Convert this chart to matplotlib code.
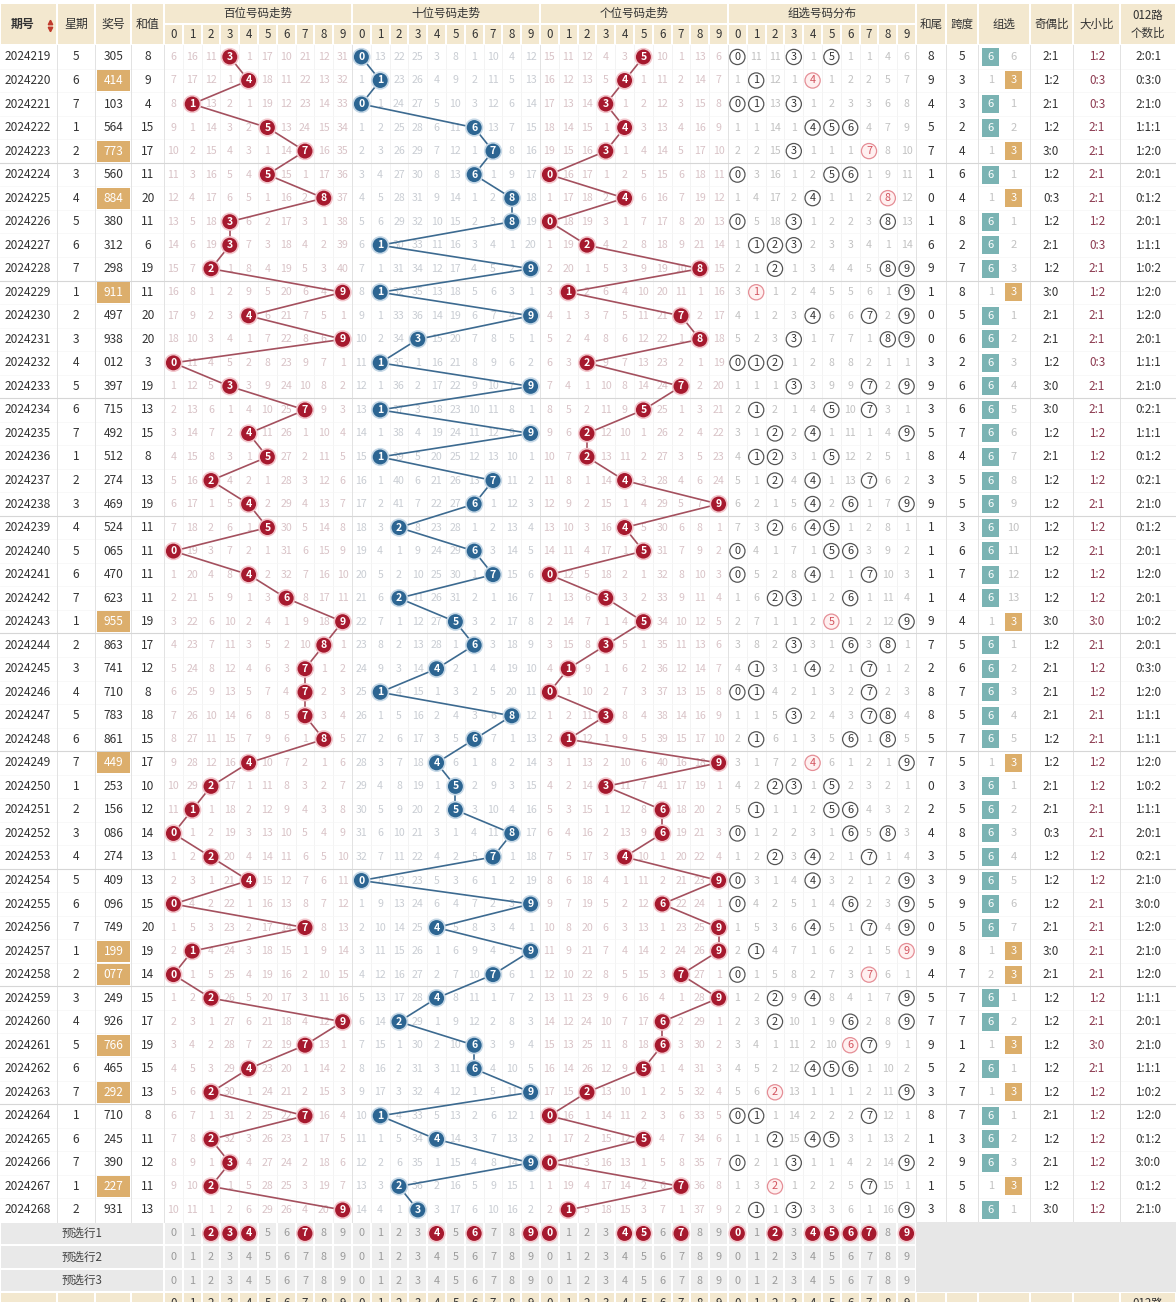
import matplotlib
matplotlib.use("Agg")
import matplotlib.pyplot as plt
from matplotlib.patches import Rectangle, Circle

plt.rcParams['font.family'] = ['Noto Sans CJK SC', 'DejaVu Sans']

# ---- data ----
issues = ["2024219", "2024220", "2024221", "2024222", "2024223", "2024224", "2024225",
          "2024226", "2024227", "2024228", "2024229", "2024230", "2024231", "2024232",
          "2024233", "2024234", "2024235", "2024236", "2024237", "2024238", "2024239",
          "2024240", "2024241", "2024242", "2024243", "2024244", "2024245", "2024246",
          "2024247", "2024248", "2024249", "2024250", "2024251", "2024252", "2024253",
          "2024254", "2024255", "2024256", "2024257", "2024258", "2024259", "2024260",
          "2024261", "2024262", "2024263", "2024264", "2024265", "2024266", "2024267",
          "2024268"]
weekdays = [5, 6, 7, 1, 2, 3, 4, 5, 6, 7, 1, 2, 3, 4, 5, 6, 7, 1, 2, 3, 4, 5, 6, 7, 1,
            2, 3, 4, 5, 6, 7, 1, 2, 3, 4, 5, 6, 7, 1, 2, 3, 4, 5, 6, 7, 1, 6, 7, 1, 2]
draws = ["305", "414", "103", "564", "773", "560", "884", "380", "312", "298",
         "911", "497", "938", "012", "397", "715", "492", "512", "274", "469",
         "524", "065", "470", "623", "955", "863", "741", "710", "783", "861",
         "449", "253", "156", "086", "274", "409", "096", "749", "199", "077",
         "249", "926", "766", "465", "292", "710", "245", "390", "227", "931"]

# omission counts shown on the first row (history before the window)
hund_miss0 = [6, 16, 11, 0, 1, 17, 10, 21, 12, 31]
tens_miss0 = [0, 13, 22, 25, 3, 8, 1, 10, 4, 12]
units_miss0 = [15, 11, 12, 4, 3, 0, 10, 1, 13, 6]
group_miss0 = [0, 11, 11, 0, 1, 0, 1, 1, 4, 6]
z6_miss0 = 0
z3_miss0 = 6

pre1_hund = [2, 3, 4, 7]
pre1_tens = [4, 6, 9]
pre1_units = [0, 4, 5, 7]
pre1_group = [0, 2, 4, 5, 6, 7, 9]
pre_labels = ["预选行1", "预选行2", "预选行3"]

# ---- layout ----
W, H = 1176, 1302
ROW_H = 23.53
Y0 = 45.2
CW = 18.8
sec_x0 = [164, 352, 540, 728]
left_edges = [0, 57, 95, 131, 164]
right_edges = [916, 946, 978, 1030, 1073, 1120, 1176]

BEIGE = "#f3e8cf"
TXT = "#333333"
RED = "#a6192e"
BLUE = "#2c6592"

fig = plt.figure(figsize=(11.76, 13.02), dpi=100)
ax = fig.add_axes([0, 0, 1, 1])
ax.set_xlim(0, W)
ax.set_ylim(H, 0)
ax.axis("off")


def rowy(i):
    return Y0 + (i + 0.5) * ROW_H


def colx(sec, d):
    return sec_x0[sec] + (d + 0.5) * CW


def cell(x0, y0, x1, y1, fc):
    ax.add_patch(Rectangle((x0 + 1, y0 + 1), x1 - x0 - 2, y1 - y0 - 2, fc=fc, ec="none", zorder=1))


def header(ytop, ymid, ybot, full=True):
    labels_left = ["期号", "星期", "奖号", "和值"]
    for k in range(4):
        cell(left_edges[k], ytop, left_edges[k + 1], ybot, BEIGE)
        if full:
            ax.text((left_edges[k] + left_edges[k + 1]) / 2 - (6 if k == 0 else 0), (ytop + ybot) / 2,
                    labels_left[k], ha="center", va="center", fontsize=8.6, color=TXT,
                    fontweight="bold" if k == 0 else "normal")
    titles = ["百位号码走势", "十位号码走势", "个位号码走势", "组选号码分布"]
    for s in range(4):
        if full:
            cell(sec_x0[s], ytop, sec_x0[s] + 10 * CW, ymid, BEIGE)
            ax.text(sec_x0[s] + 5 * CW, (ytop + ymid) / 2, titles[s], ha="center", va="center",
                    fontsize=8.3, color=TXT)
        for d in range(10):
            cell(sec_x0[s] + d * CW, ymid, sec_x0[s] + (d + 1) * CW, ybot, BEIGE)
            ax.text(colx(s, d), (ymid + ybot) / 2, str(d), ha="center", va="center",
                    fontsize=8.3, color=TXT)
    labels_right = ["和尾", "跨度", "组选", "奇偶比", "大小比", "012路\n个数比"]
    for k in range(6):
        cell(right_edges[k], ytop, right_edges[k + 1], ybot, BEIGE)
        if full:
            ax.text((right_edges[k] + right_edges[k + 1]) / 2, (ytop + ybot) / 2, labels_right[k],
                    ha="center", va="center", fontsize=8.3, color=TXT, linespacing=1.5)
        elif k == 5:
            ax.text((right_edges[k] + right_edges[k + 1]) / 2, ytop + 11, "012路",
                    ha="center", va="center", fontsize=8.3, color=TXT)


# top header
header(3, 24, Y0)
ax.plot([50], [21.5], marker="^", ms=3.2, color="#c0392b", zorder=3)
ax.plot([50], [28.5], marker="v", ms=3.2, color="#c0392b", zorder=3)

n = len(draws)
ybot = Y0 + n * ROW_H

# grid lines
for s in range(4):
    for d in range(1, 10):
        xx = sec_x0[s] + d * CW
        ax.plot([xx, xx], [Y0, ybot], color="#f1f1f1", lw=0.6, zorder=0.5)
for xx in left_edges[1:] + sec_x0[1:] + right_edges[:-1]:
    ax.plot([xx, xx], [Y0, ybot], color="#e2e2e2", lw=0.7, zorder=0.6)
for i in range(1, n):
    yy = Y0 + i * ROW_H
    if i % 5 == 0:
        ax.plot([0, W], [yy, yy], color="#d6d6d6", lw=0.8, zorder=0.6)
    else:
        ax.plot([0, W], [yy, yy], color="#f5f5f5", lw=0.5, zorder=0.5)

# omission tables
hund_miss = list(hund_miss0)
tens_miss = list(tens_miss0)
units_miss = list(units_miss0)
group_miss = list(group_miss0)
z6_miss, z3_miss = z6_miss0, z3_miss0
miss_cols = ["#d9c3c7", "#c9cdd3", "#d9c3c7"]
sec_cols = [RED, BLUE, RED]
line_cols = ["#a4505e", "#3c6a90", "#a4505e"]
edge_cols = ["#f2c6cc", "#c6d8e6", "#f2c6cc"]

for i, dr in enumerate(draws):
    y = rowy(i)
    digits = [int(c) for c in dr]
    total = sum(digits)
    is_z3 = len(set(digits)) < 3

    ax.text(28, y, issues[i], ha="center", va="center", fontsize=8.6, color=TXT)
    ax.text(76, y, str(weekdays[i]), ha="center", va="center", fontsize=8.6, color=TXT)
    if is_z3:
        ax.add_patch(Rectangle((97, y - 10.5), 33, 21, fc="#dcae6c", ec="none", zorder=1))
        ax.text(113.5, y, dr, ha="center", va="center", fontsize=8.6, color="white", zorder=2)
    else:
        ax.text(113.5, y, dr, ha="center", va="center", fontsize=8.6, color=TXT)
    ax.text(148, y, str(total), ha="center", va="center", fontsize=8.6, color=TXT)

    if i > 0:
        for s, mm in enumerate([hund_miss, tens_miss, units_miss]):
            for d in range(10):
                mm[d] = 0 if d == digits[s] else mm[d] + 1
        for d in range(10):
            group_miss[d] = 0 if d in digits else group_miss[d] + 1
        if is_z3:
            z3_miss, z6_miss = 0, z6_miss + 1
        else:
            z6_miss, z3_miss = 0, z3_miss + 1

    for s, mm in enumerate([hund_miss, tens_miss, units_miss]):
        for d in range(10):
            if d == digits[s]:
                ax.add_patch(Circle((colx(s, d), y), 8.3, fc=sec_cols[s], ec=edge_cols[s], lw=1.2, zorder=4))
                ax.text(colx(s, d), y, str(d), ha="center", va="center", fontsize=7.6,
                        color="white", fontweight="bold", zorder=5)
            else:
                ax.text(colx(s, d), y, str(mm[d]), ha="center", va="center", fontsize=7.6,
                        color=miss_cols[s], zorder=2)
        if i > 0:
            prev = int(draws[i - 1][s])
            ax.plot([colx(s, prev), colx(s, digits[s])], [rowy(i - 1), y],
                    color=line_cols[s], lw=1.2, zorder=3)

    for d in range(10):
        if d in digits:
            rep = digits.count(d) > 1
            ax.add_patch(Circle((colx(3, d), y), 7.6, fc="#fff0f0" if rep else "white",
                                ec="#e58e96" if rep else "#555555", lw=0.9, zorder=4))
            ax.text(colx(3, d), y, str(d), ha="center", va="center", fontsize=7.8,
                    color="#d2545f" if rep else TXT, zorder=5)
        else:
            ax.text(colx(3, d), y, str(group_miss[d]), ha="center", va="center", fontsize=7.6,
                    color="#c2c2c2", zorder=2)

    ax.text(931, y, str(total % 10), ha="center", va="center", fontsize=8.6, color=TXT)
    ax.text(962, y, str(max(digits) - min(digits)), ha="center", va="center", fontsize=8.6, color=TXT)
    if is_z3:
        ax.text(991, y, str(z6_miss), ha="center", va="center", fontsize=8, color="#c2c2c2")
        ax.add_patch(Rectangle((1005, y - 9), 17, 18, fc="#dcae6a", ec="none", zorder=2))
        ax.text(1013.5, y, "3", ha="center", va="center", fontsize=8, color="white", zorder=3)
    else:
        ax.add_patch(Rectangle((982, y - 9), 17, 18, fc="#7ab3b3", ec="none", zorder=2))
        ax.text(990.5, y, "6", ha="center", va="center", fontsize=8, color="white", zorder=3)
        ax.text(1013.5, y, str(z3_miss), ha="center", va="center", fontsize=8, color="#c2c2c2")
    odd = sum(1 for v in digits if v % 2 == 1)
    big = sum(1 for v in digits if v >= 5)
    r012 = [sum(1 for v in digits if v % 3 == k) for k in range(3)]
    ax.text(1051, y, f"{odd}:{3 - odd}", ha="center", va="center", fontsize=8.4, color=TXT)
    ax.text(1097, y, f"{big}:{3 - big}", ha="center", va="center", fontsize=8.4, color="#8c3a50")
    ax.text(1148, y, ":".join(str(v) for v in r012), ha="center", va="center", fontsize=8.4, color=TXT)

# preselect rows
pre_sel = [pre1_hund, pre1_tens, pre1_units, pre1_group]
for r in range(3):
    yt = ybot + r * ROW_H
    y = yt + ROW_H / 2
    cell(0, yt, 164, yt + ROW_H, "#e9e9e9")
    ax.text(82, y, pre_labels[r], ha="center", va="center", fontsize=8.3, color="#444444")
    for s in range(4):
        for d in range(10):
            cell(sec_x0[s] + d * CW, yt, sec_x0[s] + (d + 1) * CW, yt + ROW_H, "#eeeeee")
            if r == 0 and d in pre_sel[s]:
                ax.add_patch(Circle((colx(s, d), y), 8.3, fc=RED, ec="#f2c6cc", lw=1.2, zorder=4))
                ax.text(colx(s, d), y, str(d), ha="center", va="center", fontsize=7.6,
                        color="white", fontweight="bold", zorder=5)
            else:
                ax.text(colx(s, d), y, str(d), ha="center", va="center", fontsize=7.8, color="#9a9a9a")
    ax.add_patch(Rectangle((916, yt), W - 916, ROW_H, fc="#e7e7e7", ec="none", zorder=1))

# repeated header at the bottom (cut off)
yb = ybot + 3 * ROW_H
header(yb, yb, yb + 22, full=False)

fig.savefig("out.png", dpi=100, facecolor="white")
